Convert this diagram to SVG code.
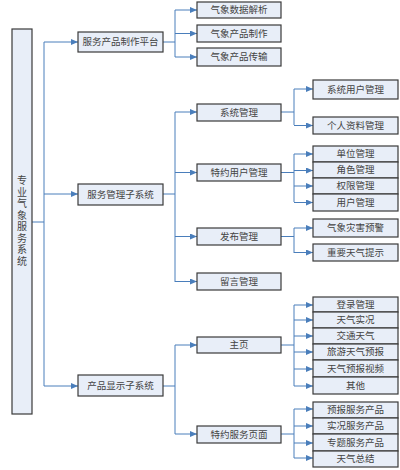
<svg xmlns="http://www.w3.org/2000/svg" width="400" height="470" viewBox="0 0 400 470">
<defs>
<marker id="arr" markerWidth="7" markerHeight="6" refX="7" refY="3" orient="auto" markerUnits="userSpaceOnUse">
<path d="M0,0 L7,3 L0,6 z" fill="#4a7ebb"/>
</marker>
<style>
.b{fill:#e8eef8;stroke:#3a3a3a;stroke-width:1.2}
.t{font-family:"Liberation Serif","Noto Sans CJK SC",serif;font-size:9.5px;fill:#444;text-anchor:middle;dominant-baseline:central}
.c{fill:none;stroke:#4a7ebb;stroke-width:1}
.a{fill:none;stroke:#4a7ebb;stroke-width:1;marker-end:url(#arr)}
</style>
</defs>
<rect width="400" height="470" fill="#fff"/>
<g id="connectors">
<path class="c" d="M32,222 H44 M44,42 V386"/>
<path class="a" d="M44,42 H78"/>
<path class="a" d="M44,194 H78"/>
<path class="a" d="M44,386 H78"/>
<path class="c" d="M163,42 H175 M175,10 V57"/>
<path class="a" d="M175,10 H197"/>
<path class="a" d="M175,33.5 H197"/>
<path class="a" d="M175,57 H197"/>
<path class="c" d="M163,194 H175 M175,112 V282"/>
<path class="a" d="M175,112 H197"/>
<path class="a" d="M175,172.5 H197"/>
<path class="a" d="M175,236.5 H197"/>
<path class="a" d="M175,281.5 H197"/>
<path class="c" d="M163,386 H175 M175,345 V434"/>
<path class="a" d="M175,345 H197"/>
<path class="a" d="M175,434 H197"/>
<path class="c" d="M281,112 H294 M294,89 V125"/>
<path class="a" d="M294,89 H313"/>
<path class="a" d="M294,125.5 H313"/>
<path class="c" d="M281,172.5 H294 M294,154 V202"/>
<path class="a" d="M294,154 H313"/>
<path class="a" d="M294,170.5 H313"/>
<path class="a" d="M294,186 H313"/>
<path class="a" d="M294,202.5 H313"/>
<path class="c" d="M281,236.5 H294 M294,228 V253"/>
<path class="a" d="M294,228 H313"/>
<path class="a" d="M294,252.5 H313"/>
<path class="c" d="M281,345 H294 M294,305 V386"/>
<path class="a" d="M294,305 H313"/>
<path class="a" d="M294,320 H313"/>
<path class="a" d="M294,336 H313"/>
<path class="a" d="M294,352 H313"/>
<path class="a" d="M294,369 H313"/>
<path class="a" d="M294,386 H313"/>
<path class="c" d="M281,434 H294 M294,409 V458"/>
<path class="a" d="M294,409 H313"/>
<path class="a" d="M294,426 H313"/>
<path class="a" d="M294,443 H313"/>
<path class="a" d="M294,458 H313"/>
</g>
<g id="root"><rect class="b" x="12" y="29" width="20" height="385"/>
<text class="t" style="font-size:10px" x="22"><tspan x="22" y="180">专</tspan><tspan x="22" y="191.5">业</tspan><tspan x="22" y="203">气</tspan><tspan x="22" y="214.5">象</tspan><tspan x="22" y="226">服</tspan><tspan x="22" y="237.5">务</tspan><tspan x="22" y="249">系</tspan><tspan x="22" y="260.5">统</tspan></text></g>
<g id="n_fwcp"><rect class="b" x="78" y="32" width="85" height="20"/><text class="t" x="120.5" y="42">服务产品制作平台</text></g>
<g id="n_fwgl"><rect class="b" x="78" y="184" width="85" height="21"/><text class="t" x="120.5" y="194.5">服务管理子系统</text></g>
<g id="n_cpxs"><rect class="b" x="78" y="375" width="85" height="21"/><text class="t" x="120.5" y="385.5">产品显示子系统</text></g>
<g id="n_sjjx"><rect class="b" x="197" y="2" width="84" height="16"/><text class="t" x="239" y="10">气象数据解析</text></g>
<g id="n_cpzz"><rect class="b" x="197" y="25" width="84" height="17"/><text class="t" x="239" y="33.5">气象产品制作</text></g>
<g id="n_cpcs"><rect class="b" x="197" y="48" width="84" height="18"/><text class="t" x="239" y="57">气象产品传输</text></g>
<g id="n_xtgl"><rect class="b" x="197" y="104" width="84" height="17"/><text class="t" x="239" y="112.5">系统管理</text></g>
<g id="n_tyyh"><rect class="b" x="197" y="164" width="84" height="17"/><text class="t" x="239" y="172.5">特约用户管理</text></g>
<g id="n_fbgl"><rect class="b" x="197" y="228" width="84" height="17"/><text class="t" x="239" y="236.5">发布管理</text></g>
<g id="n_lygl"><rect class="b" x="197" y="273" width="84" height="17"/><text class="t" x="239" y="281.5">留言管理</text></g>
<g id="n_zy"><rect class="b" x="197" y="337" width="84" height="16"/><text class="t" x="239" y="345">主页</text></g>
<g id="n_tyfw"><rect class="b" x="197" y="426" width="84" height="17"/><text class="t" x="239" y="434.5">特约服务页面</text></g>
<g id="n_xtyh"><rect class="b" x="313" y="80" width="85" height="19"/><text class="t" x="355.5" y="89.5">系统用户管理</text></g>
<g id="n_grzl"><rect class="b" x="313" y="117" width="85" height="17"/><text class="t" x="355.5" y="125.5">个人资料管理</text></g>
<g id="n_dwgl"><rect class="b" x="313" y="146" width="85" height="16"/><text class="t" x="355.5" y="154">单位管理</text></g>
<g id="n_jsgl"><rect class="b" x="313" y="162" width="85" height="16"/><text class="t" x="355.5" y="170">角色管理</text></g>
<g id="n_qxgl"><rect class="b" x="313" y="178" width="85" height="16"/><text class="t" x="355.5" y="186">权限管理</text></g>
<g id="n_yhgl"><rect class="b" x="313" y="194" width="85" height="17"/><text class="t" x="355.5" y="202.5">用户管理</text></g>
<g id="n_zhyj"><rect class="b" x="313" y="219" width="85" height="18"/><text class="t" x="355.5" y="228">气象灾害预警</text></g>
<g id="n_zyts"><rect class="b" x="313" y="244" width="85" height="17"/><text class="t" x="355.5" y="252.5">重要天气提示</text></g>
<g id="n_dlgl"><rect class="b" x="313" y="297" width="85" height="15"/><text class="t" x="355.5" y="304.5">登录管理</text></g>
<g id="n_tqsk"><rect class="b" x="313" y="312" width="85" height="16"/><text class="t" x="355.5" y="320">天气实况</text></g>
<g id="n_jttq"><rect class="b" x="313" y="328" width="85" height="16"/><text class="t" x="355.5" y="336">交通天气</text></g>
<g id="n_lyyb"><rect class="b" x="313" y="344" width="85" height="16"/><text class="t" x="355.5" y="352">旅游天气预报</text></g>
<g id="n_ybsp"><rect class="b" x="313" y="360" width="85" height="17"/><text class="t" x="355.5" y="368.5">天气预报视频</text></g>
<g id="n_qt"><rect class="b" x="313" y="377" width="85" height="17"/><text class="t" x="355.5" y="385.5">其他</text></g>
<g id="n_ybfw"><rect class="b" x="313" y="402" width="85" height="16"/><text class="t" x="355.5" y="410">预报服务产品</text></g>
<g id="n_skfw"><rect class="b" x="313" y="418" width="85" height="16"/><text class="t" x="355.5" y="426">实况服务产品</text></g>
<g id="n_ztfw"><rect class="b" x="313" y="434" width="85" height="17"/><text class="t" x="355.5" y="442.5">专题服务产品</text></g>
<g id="n_tqzj"><rect class="b" x="313" y="451" width="85" height="16"/><text class="t" x="355.5" y="459">天气总结</text></g>
</svg>
